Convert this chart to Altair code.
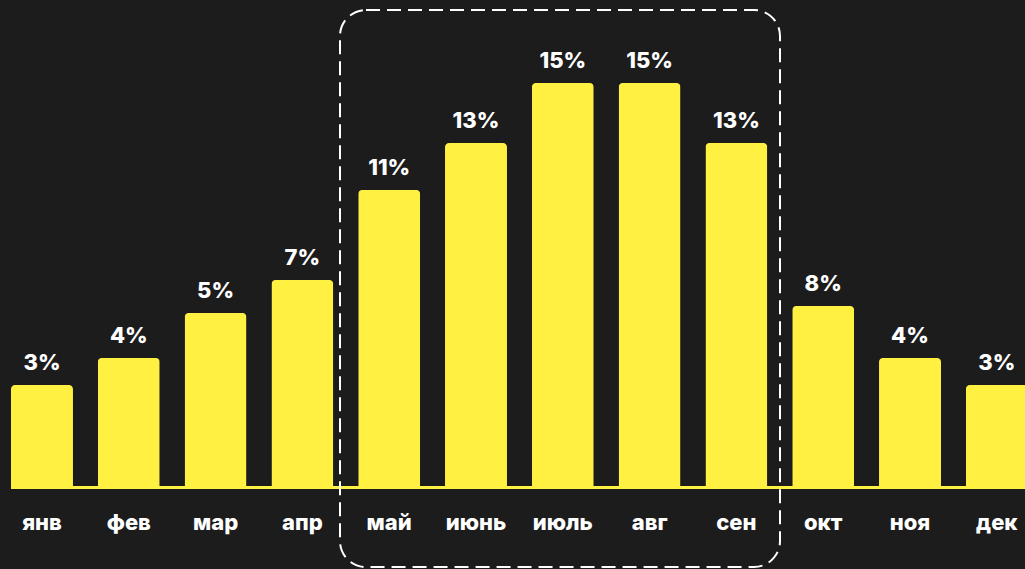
import altair as alt
import pandas as pd

months = ["янв", "фев", "мар", "апр", "май", "июнь", "июль", "авг", "сен", "окт", "ноя", "дек"]
labels = ["3%", "4%", "5%", "7%", "11%", "13%", "15%", "15%", "13%", "8%", "4%", "3%"]
heights = [3.77, 4.77, 6.43, 7.65, 10.98, 12.71, 14.93, 14.93, 12.71, 6.69, 4.77, 3.77]

df = pd.DataFrame({"month": months, "label": labels, "value": heights})

YELLOW = "#fff042"
BG = "#1c1c1c"
FONT = "Inter"

xenc = alt.X("month:N", sort=months, axis=None,
             scale=alt.Scale(domain=months, range=[11, 1027.8], paddingInner=0.286, paddingOuter=0))
yenc = alt.Y("value:Q", axis=None, scale=alt.Scale(domain=[0, 18], nice=False, zero=True))

base = alt.Chart(df)

bars = base.mark_bar(color=YELLOW, cornerRadiusTopLeft=4, cornerRadiusTopRight=4).encode(
    x=xenc, y=yenc
)

baseline = alt.Chart(pd.DataFrame({"a": [0]})).mark_rule(color=YELLOW, strokeWidth=3).encode(
    x=alt.value(11), x2=alt.value(1025), y=alt.value(487.5)
)

pct = base.mark_text(color="white", font=FONT, fontSize=22, fontWeight=800,
                     baseline="alphabetic", dy=-15).encode(x=xenc, y=yenc, text="label:N")

mon = base.mark_text(color="white", font=FONT, fontSize=22, fontWeight=800,
                     baseline="alphabetic").encode(x=xenc, y=alt.value(530), text="month:N")

box = alt.Chart(pd.DataFrame({"a": [0]})).mark_rect(
    fill=None, filled=False, stroke="white", strokeWidth=2, strokeDash=[14, 7], cornerRadius=26
).encode(x=alt.value(340), x2=alt.value(780), y=alt.value(10), y2=alt.value(567))

chart = alt.layer(bars, baseline, pct, mon, box).properties(
    width=1025, height=487,
    background=BG,
    padding={"left": 0, "top": 0, "right": 0, "bottom": 82},
    autosize=alt.AutoSizeParams(type="none"),
).configure_view(stroke=None)

chart.save("out.html", embed_options={"renderer": "svg", "actions": False})
